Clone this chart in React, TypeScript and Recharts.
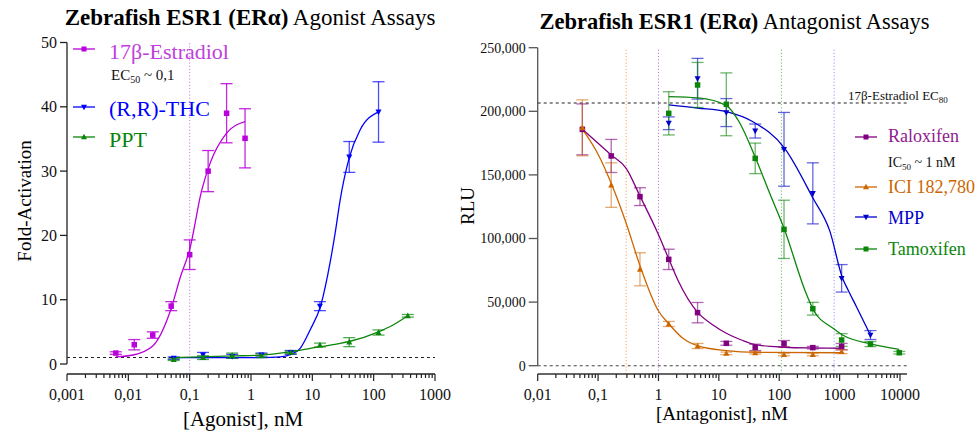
import React from "react";
import {
  ComposedChart,
  Line,
  Scatter,
  XAxis,
  YAxis,
  ErrorBar,
  ReferenceLine,
} from "recharts";

const SERIF = '"Liberation Serif", "Times New Roman", serif';

// ---------- agonist panel (fold activation) ----------
const e2Conc = [0.00625, 0.0125, 0.025, 0.05, 0.1, 0.2, 0.4, 0.8];
const e2Fold = [1.7, 3.0, 4.5, 9.0, 17.0, 30.0, 39.0, 35.1];
const e2Err = [0.2, 0.8, 0.5, 0.7, 2.3, 3.2, 4.6, 4.6];
const e2FitX = [0.00625, 0.012, 0.025, 0.049, 0.071, 0.1, 0.157, 0.215, 0.4, 0.8];
const e2FitY = [1.1, 1.4, 2.8, 8.4, 13.6, 17.8, 27.0, 31.2, 35.9, 37.7];

const thcConc = [0.0549, 0.165, 0.494, 1.48, 4.44, 13.3, 40, 120];
const thcFold = [0.9, 1.4, 1.2, 1.4, 1.8, 9.0, 32.2, 39.2];
const thcErr = [0.2, 0.4, 0.3, 0.3, 0.3, 0.7, 2.4, 4.7];
const thcFitX = [0.0549, 0.5, 1.5, 3.0, 4.44, 6.3, 9.2, 13.8, 19.5, 23.5, 28.4, 40, 60, 120];
const thcFitY = [1.0, 1.0, 1.0, 1.1, 1.5, 2.4, 5.3, 9.2, 15.8, 20.3, 25.5, 32.1, 36.4, 39.2];

const pptConc = [0.0549, 0.165, 0.494, 1.48, 4.44, 13.3, 40, 120, 360];
const pptFold = [0.7, 1.0, 1.3, 1.3, 1.8, 2.95, 3.4, 4.9, 7.5];
const pptErr = [0.15, 0.3, 0.4, 0.3, 0.2, 0.3, 0.7, 0.4, 0.2];
const pptFitX = [0.0549, 0.52, 1.5, 4.4, 13.6, 28.4, 40, 120, 210, 360];
const pptFitY = [1.0, 1.25, 1.4, 1.9, 2.7, 3.2, 3.5, 5.0, 6.1, 7.5];

const agoXMajor = [0.001, 0.01, 0.1, 1, 10, 100, 1000];
const agoXLabels = ["0,001", "0,01", "0,1", "1", "10", "100", "1000"];
const agoYTicks = [0, 10, 20, 30, 40, 50];

// ---------- antagonist panel (RLU) ----------
const raloConc = [0.0549, 0.165, 0.494, 1.48, 4.44, 13.3, 40, 120, 360, 1080];
const raloRLU = [185800, 164900, 132900, 83600, 41700, 17600, 14400, 17300, 14200, 15000];
const raloErr = [20000, 13000, 7000, 8000, 8000, 1500, 2500, 2500, 1000, 2500];
const raloFitX = [0.0549, 0.165, 0.292, 0.499, 0.977, 1.49, 2.09, 4.5, 8.0, 13.3, 23.6, 41.9, 123, 363, 1080];
const raloFitY = [185900, 165700, 155200, 132900, 104100, 83600, 67400, 41700, 32000, 25500, 20200, 16300, 14500, 13900, 13700];

const iciConc = [0.0549, 0.165, 0.494, 1.48, 4.44, 13.3, 40, 120, 360, 1080];
const iciRLU = [187000, 142000, 75800, 32800, 15500, 9700, 10200, 8800, 8800, 11000];
const iciErr = [22000, 17500, 13000, 2000, 2000, 1000, 1000, 1000, 1000, 1500];
const iciFitX = [0.0549, 0.105, 0.165, 0.292, 0.499, 0.977, 1.49, 2.54, 4.5, 13.3, 41.9, 1080];
const iciFitY = [185900, 164300, 143400, 112000, 78000, 43800, 32800, 21500, 15500, 11800, 10500, 10200];

const mppConc = [1.48, 4.44, 13.3, 40, 120, 360, 1080, 3240];
const mppRLU = [190600, 225600, 199000, 184500, 170100, 135500, 68700, 24100];
const mppErr = [5000, 16000, 11000, 5500, 29000, 24000, 10800, 3500];
const mppFitX = [1.48, 4.44, 13.3, 36.7, 123, 363, 687, 1120, 1380, 1900, 3240];
const mppFitY = [205000, 202600, 199700, 191800, 170900, 131600, 106000, 68700, 59500, 46400, 24100];

const tamConc = [1.48, 4.44, 13.3, 40, 120, 360, 1080, 3240, 9720];
const tamRLU = [198400, 220700, 205500, 163000, 107200, 44800, 20200, 17000, 10200];
const tamErr = [17000, 17700, 24700, 12000, 22900, 5000, 5000, 2000, 1000];
const tamFitX = [1.48, 4.5, 13.3, 22.1, 40.7, 69.5, 123, 265, 363, 780, 1120, 3240, 9720];
const tamFitY = [211500, 210500, 204500, 191000, 163000, 135500, 106700, 59500, 44300, 29400, 24100, 17100, 12900];

const antXMajor = [0.01, 0.1, 1, 10, 100, 1000, 10000];
const antXLabels = ["0,01", "0,1", "1", "10", "100", "1000", "10000"];
const antYTicks = [0, 50000, 100000, 150000, 200000, 250000];

const e2EC50 = 0.1;
const e2EC80 = 206500;
const antIC50 = [
  { x: 0.292, color: "#F5A060" },
  { x: 1.0, color: "#B878E0" },
  { x: 108.6, color: "#70BB70" },
  { x: 811, color: "#9999FF" },
];

const C = {
  e2: "#BA00DC",
  thc: "#0000FF",
  ppt: "#0A850A",
  ralo: "#800080",
  ici: "#CC6600",
  mpp: "#0000CC",
  tam: "#0B860B",
};

const pts = (xs: number[], ys: number[], es?: number[]) =>
  xs.map((x, i) => ({ x, y: ys[i], e: es ? es[i] : 0 }));

const minorTicks = (majors: number[]) => {
  const out: number[] = [];
  majors.forEach((m, i) => {
    out.push(m);
    if (i < majors.length - 1) for (let k = 2; k <= 9; k++) out.push(+(m * k).toPrecision(6));
  });
  return out;
};

function LogTick(props: any) {
  const { x, y, payload, majors, labels } = props;
  const i = majors.indexOf(payload.value);
  const top = y - 12;
  return (
    <g>
      <line x1={x} x2={x} y1={top} y2={top + (i >= 0 ? 7 : 4)} stroke="#222" strokeWidth={1.2} />
      {i >= 0 && (
        <text x={x} y={top + 26} textAnchor="middle" fontSize={16} fontFamily={SERIF} fill="#111">
          {labels[i]}
        </text>
      )}
    </g>
  );
}

const square = (s: number) => (p: any) =>
  <rect x={p.cx - s / 2} y={p.cy - s / 2} width={s} height={s} fill={p.fill} />;
const triUp = (s: number) => (p: any) =>
  <path d={`M${p.cx},${p.cy - s * 0.55}L${p.cx + s / 2},${p.cy + s * 0.4}L${p.cx - s / 2},${p.cy + s * 0.4}Z`} fill={p.fill} />;
const triDown = (s: number) => (p: any) =>
  <path d={`M${p.cx},${p.cy + s * 0.55}L${p.cx + s / 2},${p.cy - s * 0.4}L${p.cx - s / 2},${p.cy - s * 0.4}Z`} fill={p.fill} />;

function Series({ name, data, fit, color, shape, errOpacity }: any) {
  return [
    <Line
      key={name + "-fit"}
      data={fit}
      dataKey="y"
      type="monotone"
      dot={false}
      activeDot={false}
      stroke={color}
      strokeWidth={1.3}
      isAnimationActive={false}
    />,
    <Scatter key={name + "-pts"} data={data} dataKey="y" fill={color} shape={shape} isAnimationActive={false}>
      <ErrorBar
        dataKey="e"
        direction="y"
        width={6}
        stroke={color}
        strokeOpacity={errOpacity}
        strokeWidth={1.3}
        isAnimationActive={false}
      />
    </Scatter>,
  ];
}

function LegendMark({ x, y, color, kind }: any) {
  const s = 5;
  let m;
  if (kind === "sq") m = <rect x={x - s / 2} y={y - s / 2} width={s} height={s} fill={color} />;
  else if (kind === "up")
    m = <path d={`M${x},${y - 3.2}L${x + 3},${y + 2.2}L${x - 3},${y + 2.2}Z`} fill={color} />;
  else m = <path d={`M${x},${y + 3.2}L${x + 3},${y - 2.2}L${x - 3},${y - 2.2}Z`} fill={color} />;
  return (
    <g>
      <line x1={x - 11} x2={x + 11} y1={y} y2={y} stroke={color} strokeWidth={1.3} />
      {m}
    </g>
  );
}

export default function App() {
  const agoTicks = minorTicks(agoXMajor);
  const antTicks = minorTicks(antXMajor);

  return (
    <div style={{ position: "relative", width: 978, height: 435, background: "#fff", fontFamily: SERIF }}>
      <style>{"body{margin:0}"}</style>

      {/* agonist */}
      <div style={{ position: "absolute", left: 0, top: 0 }}>
        <ComposedChart width={480} height={435} margin={{ top: 42.5, right: 45, bottom: 21, left: 0 }}>
          <XAxis
            dataKey="x"
            type="number"
            scale="log"
            domain={[0.001, 1000]}
            allowDataOverflow
            ticks={agoTicks}
            interval={0}
            height={40}
            tickSize={8}
            tickMargin={4}
            tickLine={false}
            axisLine={{ stroke: "#222", strokeWidth: 1.3 }}
            tick={(p: any) => <LogTick {...p} majors={agoXMajor} labels={agoXLabels} />}
          />
          <YAxis
            type="number"
            domain={[-1.555, 50]}
            allowDataOverflow
            ticks={agoYTicks}
            width={67}
            axisLine={false}
            tickSize={7}
            tickMargin={3}
            tickLine={{ stroke: "#222", strokeWidth: 1.3 }}
            tick={{ fontSize: 16, fill: "#111", fontFamily: SERIF }}
          />
          <ReferenceLine segment={[{ x: 0.001, y: 0 }, { x: 0.001, y: 50 }]} stroke="#222" strokeWidth={1.3} />
          <ReferenceLine y={1} stroke="#222" strokeDasharray="3 3" strokeWidth={1.1} />
          <ReferenceLine x={e2EC50} stroke="#D080E0" strokeDasharray="1.2 2" strokeWidth={1} />
          {Series({ name: "e2", data: pts(e2Conc, e2Fold, e2Err), fit: pts(e2FitX, e2FitY), color: C.e2, shape: square(5.5), errOpacity: 0.85 })}
          {Series({ name: "thc", data: pts(thcConc, thcFold, thcErr), fit: pts(thcFitX, thcFitY), color: C.thc, shape: triDown(6), errOpacity: 0.7 })}
          {Series({ name: "ppt", data: pts(pptConc, pptFold, pptErr), fit: pts(pptFitX, pptFitY), color: C.ppt, shape: triUp(6), errOpacity: 0.7 })}
        </ComposedChart>
      </div>

      {/* antagonist */}
      <div style={{ position: "absolute", left: 470, top: 0 }}>
        <ComposedChart width={508} height={435} margin={{ top: 47.7, right: 71, bottom: 21, left: 0 }}>
          <XAxis
            dataKey="x"
            type="number"
            scale="log"
            domain={[0.01, 13060]}
            allowDataOverflow
            ticks={antTicks}
            interval={0}
            height={40}
            tickSize={8}
            tickMargin={4}
            tickLine={false}
            axisLine={{ stroke: "#333", strokeWidth: 1.3 }}
            tick={(p: any) => <LogTick {...p} majors={antXMajor} labels={antXLabels} />}
          />
          <YAxis
            type="number"
            domain={[-6525, 250000]}
            allowDataOverflow
            ticks={antYTicks}
            width={67.7}
            axisLine={false}
            tickSize={9}
            tickMargin={3}
            tickLine={{ stroke: "#555", strokeWidth: 1.3 }}
            tickFormatter={(v: number) => v.toLocaleString("en-US")}
            tick={{ fontSize: 14, fill: "#111", fontFamily: SERIF }}
          />
          <ReferenceLine segment={[{ x: 0.01, y: 0 }, { x: 0.01, y: 250000 }]} stroke="#555" strokeWidth={1.3} />
          <ReferenceLine y={0} stroke="#444" strokeDasharray="3 3" strokeWidth={1.1} />
          <ReferenceLine y={e2EC80} stroke="#222" strokeDasharray="3 3" strokeWidth={1.1} />
          {antIC50.map((r) => (
            <ReferenceLine key={r.x} x={r.x} stroke={r.color} strokeDasharray="1.2 2" strokeWidth={1} />
          ))}
          {Series({ name: "ralo", data: pts(raloConc, raloRLU, raloErr), fit: pts(raloFitX, raloFitY), color: C.ralo, shape: square(5.5), errOpacity: 0.6 })}
          {Series({ name: "ici", data: pts(iciConc, iciRLU, iciErr), fit: pts(iciFitX, iciFitY), color: C.ici, shape: triUp(6), errOpacity: 0.55 })}
          {Series({ name: "mpp", data: pts(mppConc, mppRLU, mppErr), fit: pts(mppFitX, mppFitY), color: C.mpp, shape: triDown(6), errOpacity: 0.6 })}
          {Series({ name: "tam", data: pts(tamConc, tamRLU, tamErr), fit: pts(tamFitX, tamFitY), color: C.tam, shape: square(5.5), errOpacity: 0.6 })}
        </ComposedChart>
      </div>

      {/* titles, axis labels, legends */}
      <svg width={978} height={435} style={{ position: "absolute", left: 0, top: 0, pointerEvents: "none" }} fontFamily={SERIF}>
        <text x={250} y={25} textAnchor="middle" fontSize={23} fill="#000">
          <tspan fontWeight="bold">Zebrafish ESR1 (ERα)</tspan> Agonist Assays
        </text>
        <text x={734.5} y={29} textAnchor="middle" fontSize={22.5} fill="#000">
          <tspan fontWeight="bold">Zebrafish ESR1 (ERα)</tspan> Antagonist Assays
        </text>

        <text x={24} y={201} textAnchor="middle" dy="0.35em" fontSize={19} transform="rotate(-90 24 201)">
          Fold-Activation
        </text>
        <text x={243} y={426} textAnchor="middle" fontSize={21}>[Agonist], nM</text>
        <text x={467} y={206} textAnchor="middle" dy="0.35em" fontSize={19} transform="rotate(-90 467 206)">
          RLU
        </text>
        <text x={722} y={420} textAnchor="middle" fontSize={19}>[Antagonist], nM</text>

        <text x={848} y={100} fontSize={13} fill="#111">
          17β-Estradiol EC<tspan fontSize={9} dy={3}>80</tspan>
        </text>

        {/* agonist legend */}
        <LegendMark x={84} y={49} color={C.e2} kind="sq" />
        <text x={109} y={51} dy="0.35em" fontSize={22} fill="#C040DD">17β-Estradiol</text>
        <text x={111} y={75} dy="0.35em" fontSize={15} fill="#111">
          EC<tspan fontSize={10} dy={3}>50</tspan><tspan dy={-3}> ~ 0,1</tspan>
        </text>
        <LegendMark x={84} y={107} color={C.thc} kind="down" />
        <text x={109} y={108} dy="0.35em" fontSize={22} fill={C.thc}>(R,R)-THC</text>
        <LegendMark x={84} y={137} color={C.ppt} kind="up" />
        <text x={109} y={139} dy="0.35em" fontSize={22} fill={C.ppt}>PPT</text>

        {/* antagonist legend */}
        <LegendMark x={866} y={137} color={C.ralo} kind="sq" />
        <text x={888} y={136} dy="0.35em" fontSize={18} fill="#902090">Raloxifen</text>
        <text x={888} y={162} dy="0.35em" fontSize={14} fill="#111">
          IC<tspan fontSize={9} dy={3}>50</tspan><tspan dy={-3}> ~ 1 nM</tspan>
        </text>
        <LegendMark x={866} y={187} color={C.ici} kind="up" />
        <text x={888} y={187} dy="0.35em" fontSize={18} fill={C.ici}>ICI 182,780</text>
        <LegendMark x={866} y={217} color={C.mpp} kind="down" />
        <text x={888} y={218} dy="0.35em" fontSize={18} fill={C.mpp}>MPP</text>
        <LegendMark x={866} y={249} color={C.tam} kind="sq" />
        <text x={888} y={249} dy="0.35em" fontSize={18} fill={C.tam}>Tamoxifen</text>
      </svg>
    </div>
  );
}
